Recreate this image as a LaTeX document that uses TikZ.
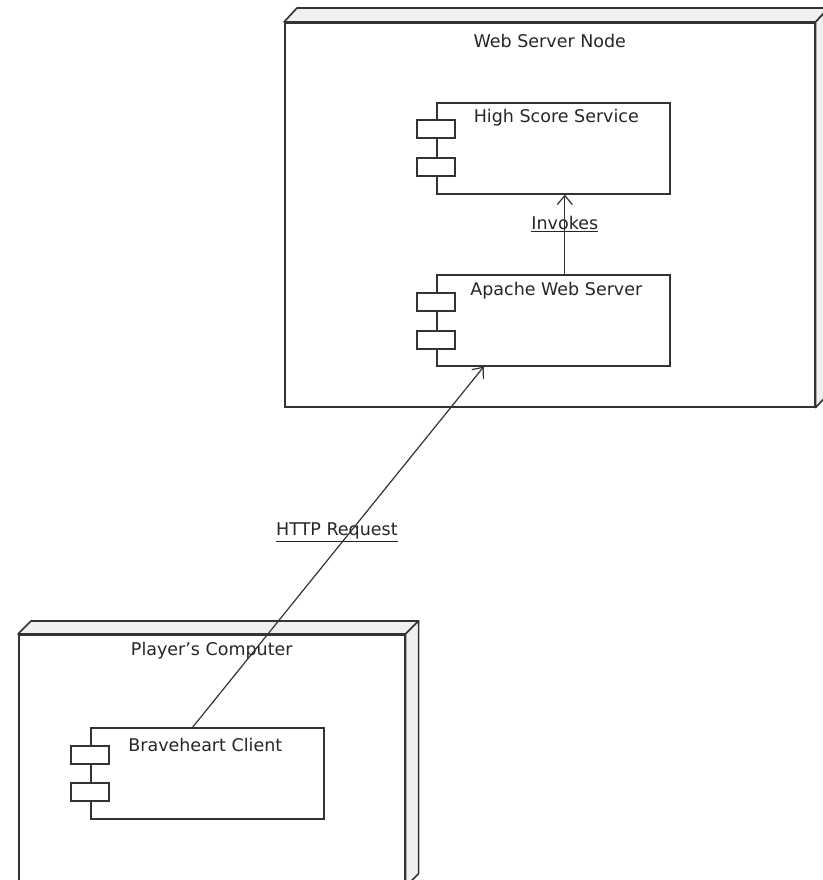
\documentclass[tikz,border=0pt]{standalone}
\usepackage{fontspec}
\setmainfont{DejaVu Sans}
\usetikzlibrary{arrows.meta,positioning}

\tikzset{
	devbox/.style={draw=black!80, line width=1.6pt, fill=white, inner sep=0pt, anchor=north west},
	devside/.style={draw=black!80, line width=1.6pt, fill=black!6, line join=round},
	compbox/.style={draw=black!80, line width=1.6pt, fill=white, inner sep=0pt, anchor=north west,
		minimum width=233pt, minimum height=91pt},
	portbox/.style={draw=black!80, line width=1.6pt, fill=white, inner sep=0pt,
		minimum width=38pt, minimum height=18pt},
	caption/.style={font=\fontsize{17.5}{20}\selectfont, text=black!85, inner sep=1pt},
	link/.style={draw=black!80, line width=1.2pt},
	opentip/.style={-{Straight Barb[length=9pt,width=15pt]}}
}

\begin{document}
\begin{tikzpicture}[x=1pt,y=-1pt]
\useasboundingbox (0,0) rectangle (822,880);

% deployment nodes
\node[devbox, minimum width=530pt, minimum height=384pt] (web) at (284,22) {};
\draw[devside] (web.north west) -- ++(13,-14) -- ([shift={(13,-14)}]web.north east) -- (web.north east) -- cycle;
\draw[devside] (web.north east) -- ++(13,-14) -- ([shift={(13,-14)}]web.south east) -- (web.south east) -- cycle;
\node[caption] (weblabel) at ([yshift=-19pt]web.north) {Web Server Node};

\node[devbox, minimum width=386pt, minimum height=251pt] (player) at (18,634) {};
\draw[devside] (player.north west) -- ++(13,-13) -- ([shift={(13,-13)}]player.north east) -- (player.north east) -- cycle;
\draw[devside] (player.north east) -- ++(13,-13) -- ([shift={(13,-13)}]player.south east) -- (player.south east) -- cycle;
\node[caption] (playerlabel) at ([yshift=-17pt]player.north) {Player’s Computer};

% components
\node[compbox] (hss) at (436,102) {};
\node[portbox] (hssa) at ([yshift=-27pt]hss.north west) {};
\node[portbox] (hssb) at ([yshift=-65pt]hss.north west) {};
\node[caption] (hsslabel) at ([xshift=3pt,yshift=-16pt]hss.north) {High Score Service};

\node[compbox] (apache) at (436,274) {};
\node[portbox] (apachea) at ([yshift=-28pt]apache.north west) {};
\node[portbox] (apacheb) at ([yshift=-66pt]apache.north west) {};
\node[caption] (apachelabel) at ([xshift=3pt,yshift=-17pt]apache.north) {Apache Web Server};

\node[compbox] (client) at (90,727) {};
\node[portbox] (clienta) at ([yshift=-28pt]client.north west) {};
\node[portbox] (clientb) at ([yshift=-65pt]client.north west) {};
\node[caption] (clientlabel) at ([xshift=-2pt,yshift=-18pt]client.north) {Braveheart Client};

% connectors
\draw[link, opentip] ([xshift=11.5pt]apache.north) -- ([xshift=11.5pt]hss.south)
	node[caption, pos=.63] {\underline{Invokes}};
\draw[link, opentip] ([xshift=-14.5pt]client.north) -- ([xshift=-69.5pt]apache.south)
	node[caption, pos=.54, xshift=-13pt] {\underline{HTTP Request}};
\end{tikzpicture}
\end{document}
